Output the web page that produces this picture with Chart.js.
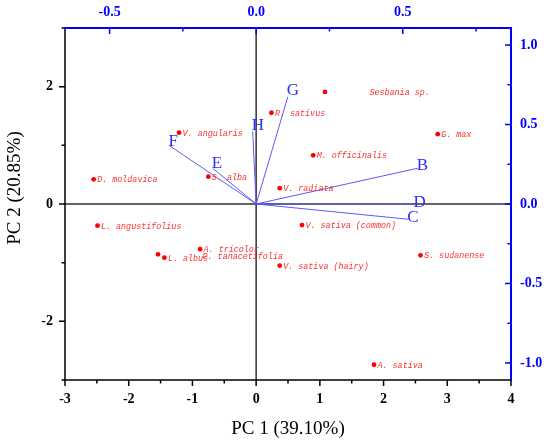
<!DOCTYPE html>
<html><head><meta charset="utf-8">
<script src="https://cdn.jsdelivr.net/npm/chart.js@4"></script>
<style>html,body{margin:0;padding:0;background:#fff;} #wrap{width:550px;height:444px;position:relative;}</style>
</head><body><div id="wrap"><canvas id="c"></canvas></div>
<script>
const speciesNames = ['Sesbania sp.','R. sativus','V. angularis','G. max','M. officinalis','D. moldavica','S. alba','V. radiata','L. angustifolius','V. sativa (common)','A. tricolor','P. tanacetifolia','L. albus','S. sudanense','V. sativa (hairy)','A. sativa'];
const pc1Scores = [1.08, 0.24, -1.21, 2.85, 0.895, -2.55, -0.75, 0.37, -2.49, 0.72, -0.88, -1.54, -1.44, 2.58, 0.37, 1.85];
const pc2Scores = [1.91, 1.555, 1.215, 1.19, 0.83, 0.42, 0.465, 0.27, -0.37, -0.36, -0.77, -0.857, -0.915, -0.875, -1.05, -2.74];
const variableNames = ['B','C','D','E','F','G','H'];
const pc1Loadings = [0.551, 0.519, 0.540, -0.148, -0.296, 0.108, -0.012];
const pc2Loadings = [0.225, -0.096, 0.0, 0.224, 0.367, 0.675, 0.455];
const pc1Ticks = [-3,-2,-1,0,1,2,3,4];
const pc2Ticks = [-2,0,2];
const loading1Ticks = [-0.5,0,0.5];
const loading2Ticks = [-1,-0.5,0,0.5,1];

const serif = '"Liberation Serif","Times New Roman",serif';
const tickFont = {family: serif, size: 14, weight: 'bold'};
const BLUE = '#0000ff';
const labelShift = {'Sesbania sp.': 41, 'P. tanacetifolia': 41};
const labelDy = {'P. tanacetifolia': 1.5};

function fixTicks(vals){ return s => { s.ticks = vals.map(v => ({value: v})); }; }

const scoreData = pc1Scores.map((x, i) => ({x: x, y: pc2Scores[i]}));
const vectorSets = variableNames.map((n, i) => ({
  label: n,
  data: [{x: 0, y: 0}, {x: pc1Loadings[i], y: pc2Loadings[i]}],
  xAxisID: 'x2', yAxisID: 'y2',
  showLine: true, pointRadius: 0, borderColor: '#5a5aff', borderWidth: 1, fill: false
}));

function minorOf(major, min, max){
  const step = major[1] - major[0];
  const out = [];
  for (let v = major[0] - step/2; v >= min - 1e-9; v -= step) out.push(v);
  for (let i = 0; i < major.length; i++) {
    const m = major[i] + step/2;
    if (m <= max + 1e-9) out.push(m);
  }
  return out;
}

const decor = {
  id: 'decor',
  beforeDatasetsDraw(chart){
    const {ctx, chartArea: a, scales} = chart;
    const x0 = scales.x.getPixelForValue(0), y0 = scales.y.getPixelForValue(0);
    ctx.save();
    ctx.strokeStyle = '#333';
    ctx.lineWidth = 1.5;
    ctx.beginPath();
    ctx.moveTo(x0, a.top); ctx.lineTo(x0, a.bottom);
    ctx.moveTo(a.left, y0); ctx.lineTo(a.right, y0);
    ctx.stroke();
    ctx.restore();
  },
  afterDatasetsDraw(chart){
    const {ctx, chartArea: a, scales} = chart;
    ctx.save();
    // axis lines
    ctx.lineWidth = 1.5;
    ctx.strokeStyle = '#000';
    ctx.beginPath();
    ctx.moveTo(a.left, a.top); ctx.lineTo(a.left, a.bottom + 0.75);
    ctx.moveTo(a.left - 0.75, a.bottom); ctx.lineTo(a.right, a.bottom);
    ctx.stroke();
    ctx.lineWidth = 2;
    ctx.strokeStyle = BLUE;
    ctx.beginPath();
    ctx.moveTo(a.left - 0.75, a.top); ctx.lineTo(a.right + 1, a.top);
    ctx.moveTo(a.right, a.top); ctx.lineTo(a.right, a.bottom + 1);
    ctx.stroke();
    // ticks
    function ticks(scale, vals, len, side, color, w){
      ctx.strokeStyle = color; ctx.lineWidth = w;
      ctx.beginPath();
      vals.forEach(v => {
        const p = scale.getPixelForValue(v);
        if (side === 'left') { ctx.moveTo(a.left, p); ctx.lineTo(a.left - len, p); }
        if (side === 'bottom') { ctx.moveTo(p, a.bottom); ctx.lineTo(p, a.bottom + len); }
        if (side === 'top') { ctx.moveTo(p, a.top); ctx.lineTo(p, a.top + len); }
        if (side === 'right') { ctx.moveTo(a.right, p); ctx.lineTo(a.right - len, p); }
      });
      ctx.stroke();
    }
    const sx = scales.x, sy = scales.y, sx2 = scales.x2, sy2 = scales.y2;
    ticks(sx, pc1Ticks, 6, 'bottom', '#000', 1.5);
    ticks(sx, minorOf(pc1Ticks, sx.min, sx.max), 3.5, 'bottom', '#000', 1.5);
    ticks(sy, pc2Ticks, 6, 'left', '#000', 1.5);
    ticks(sy, minorOf(pc2Ticks, sy.min, sy.max), 3.5, 'left', '#000', 1.5);
    ticks(sx2, loading1Ticks, 6, 'top', BLUE, 1.5);
    ticks(sx2, minorOf(loading1Ticks, sx2.min, sx2.max), 3.5, 'top', BLUE, 1.5);
    ticks(sy2, loading2Ticks, 6, 'right', BLUE, 1.5);
    ticks(sy2, minorOf(loading2Ticks, sy2.min, sy2.max), 3.5, 'right', BLUE, 1.5);

    // score labels
    const meta0 = chart.getDatasetMeta(0);
    ctx.fillStyle = '#ff3030';
    ctx.font = 'italic 8.4px "Liberation Mono","Courier New",monospace';
    ctx.textAlign = 'left';
    ctx.textBaseline = 'middle';
    meta0.data.forEach((el, i) => {
      const n = speciesNames[i];
      ctx.fillText(n, el.x + 3.5 + (labelShift[n] || 0), el.y + 0.8 + (labelDy[n] || 0));
    });
    // vector labels
    ctx.fillStyle = '#2a2aff';
    ctx.font = '17px ' + serif;
    variableNames.forEach((n, i) => {
      const meta = chart.getDatasetMeta(i + 1);
      const o = meta.data[0], e = meta.data[1];
      const dx = e.x - o.x, dy = e.y - o.y, L = Math.hypot(dx, dy) || 1;
      const up = Math.max(0, -dy / L);
      ctx.fillText(n, e.x - 1, e.y - 1.5 - 5 * up);
    });
    // left axis title
    ctx.fillStyle = '#000';
    ctx.font = '19px ' + serif;
    ctx.translate(15.5, 188);
    ctx.rotate(-Math.PI / 2);
    ctx.textAlign = 'center';
    ctx.fillText('PC 2 (20.85%)', 0, 0);
    ctx.restore();
  }
};

new Chart(document.getElementById('c'), {
  type: 'scatter',
  data: {
    datasets: [{
      label: 'scores', data: scoreData, xAxisID: 'x', yAxisID: 'y',
      pointRadius: 2.4, pointBackgroundColor: '#ff0000', pointBorderWidth: 0, showLine: false
    }].concat(vectorSets)
  },
  options: {
    responsive: true, maintainAspectRatio: false, animation: false, events: [],
    layout: {padding: 0},
    plugins: {legend: {display: false}, tooltip: {enabled: false}},
    scales: {
      x: {
        type: 'linear', position: 'bottom', min: -3, max: 4,
        afterBuildTicks: fixTicks(pc1Ticks), afterFit: s => { s.height = 64; },
        grid: {display: false, drawTicks: false}, border: {display: false},
        ticks: {font: tickFont, color: '#000', padding: 11, maxRotation: 0, autoSkip: false, callback: v => String(v)},
        title: {display: true, text: 'PC 1 (39.10%)', color: '#000', font: {family: serif, size: 19}, padding: {top: 0, bottom: 4}}
      },
      y: {
        type: 'linear', position: 'left', min: -3, max: 3,
        afterBuildTicks: fixTicks(pc2Ticks), afterFit: s => { s.width = 65; },
        grid: {display: false, drawTicks: false}, border: {display: false},
        ticks: {font: tickFont, color: '#000', padding: 12, autoSkip: false, callback: v => String(v)}
      },
      x2: {
        type: 'linear', position: 'top', min: -0.652, max: 0.869,
        afterBuildTicks: fixTicks(loading1Ticks), afterFit: s => { s.height = 28; },
        grid: {display: false, drawTicks: false}, border: {display: false},
        ticks: {font: tickFont, color: BLUE, padding: 7.5, maxRotation: 0, autoSkip: false, callback: v => v.toFixed(1)}
      },
      y2: {
        type: 'linear', position: 'right', min: -1.107, max: 1.107,
        afterBuildTicks: fixTicks(loading2Ticks), afterFit: s => { s.width = 39; },
        grid: {display: false, drawTicks: false}, border: {display: false},
        ticks: {font: tickFont, color: BLUE, padding: 9, autoSkip: false, callback: v => v.toFixed(1)}
      }
    }
  },
  plugins: [decor]
});
</script>
</body></html>
